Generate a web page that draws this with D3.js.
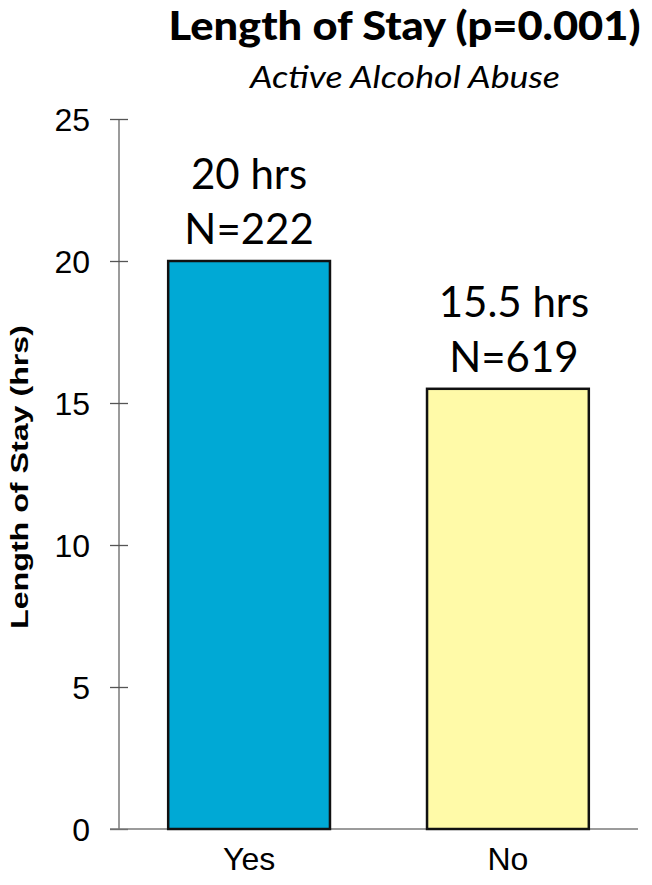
<!DOCTYPE html>
<html>
<head>
<meta charset="utf-8">
<script src="https://cdn.jsdelivr.net/npm/d3@7"></script>
<style>
  html, body { margin: 0; padding: 0; background: #ffffff; }
  svg { display: block; }
</style>
</head>
<body>
<script>
// ---- data ----
const categories = ["Yes", "No"];
const values = [20, 15.5];
const hoursLabels = ["20 hrs", "15.5 hrs"];
const nLabels = ["N=222", "N=619"];
const barColors = ["#00A9D5", "#FFFAA8"];
const yTicks = [0, 5, 10, 15, 20, 25];
const titleText = "Length of Stay (p=0.001)";
const subtitleText = "Active Alcohol Abuse";
const yAxisTitle = "Length of Stay (hrs)";

const W = 652, H = 885;
const svg = d3.select("body").append("svg").attr("width", W).attr("height", H);

const y = d3.scaleLinear().domain([0, 25]).range([829, 119]);
const x = d3.scaleBand().domain(categories).range([119, 638])
  .paddingInner(0.375).paddingOuter(0.19);

// title
svg.append("text")
  .attr("x", 404.5).attr("y", 40)
  .attr("text-anchor", "middle")
  .attr("font-family", "Lato, 'Open Sans', sans-serif")
  .attr("font-weight", "900")
  .attr("font-size", 39)
  .attr("textLength", 472).attr("lengthAdjust", "spacingAndGlyphs")
  .attr("fill", "#000")
  .text(titleText);

svg.append("text")
  .attr("x", 405).attr("y", 88)
  .attr("text-anchor", "middle")
  .attr("font-family", "Lato, 'Open Sans', sans-serif")
  .attr("font-style", "italic")
  .attr("font-size", 31)
  .attr("textLength", 310).attr("lengthAdjust", "spacingAndGlyphs")
  .attr("fill", "#000")
  .text(subtitleText);

// y axis
const yAxis = d3.axisLeft(y).tickValues(yTicks).tickSize(0).tickPadding(29).tickFormat(d3.format("d"));
const gy = svg.append("g").attr("transform", "translate(119,0)").call(yAxis);
gy.select(".domain").attr("stroke", "#7a7a7a").attr("stroke-width", 1.5)
  .attr("d", `M0,${y(25)}V${y(0)}`);
gy.selectAll(".tick line").remove();
gy.selectAll(".tick").append("line")
  .attr("x1", -9).attr("x2", 9)
  .attr("stroke", "#555").attr("stroke-width", 1.3);
gy.selectAll(".tick text")
  .attr("font-family", "'Liberation Sans', Arial, sans-serif")
  .attr("font-size", 32).attr("fill", "#000")
  .attr("dy", "0.36em");

// x axis
const xAxis = d3.axisBottom(x).tickSize(0).tickPadding(18);
const gx = svg.append("g").attr("transform", `translate(0,${y(0)})`).call(xAxis);
gx.select(".domain").attr("stroke", "#7a7a7a").attr("stroke-width", 1.5)
  .attr("d", "M110,0H638");
gx.selectAll(".tick text")
  .attr("font-family", "'Liberation Sans', Arial, sans-serif")
  .attr("font-size", 32).attr("fill", "#000")
  .attr("dy", "0.71em");

// bars
svg.append("g").selectAll("rect")
  .data(categories)
  .join("rect")
  .attr("x", d => x(d))
  .attr("y", (d, i) => y(values[i]))
  .attr("width", x.bandwidth())
  .attr("height", (d, i) => y(0) - y(values[i]))
  .attr("fill", (d, i) => barColors[i])
  .attr("stroke", "#111")
  .attr("stroke-width", 2.5);

// value labels
const lab = svg.append("g")
  .attr("font-family", "Lato, 'Open Sans', sans-serif")
  .attr("font-size", 42).attr("fill", "#000")
  .attr("text-anchor", "middle");
lab.selectAll("text.hrs")
  .data(categories).join("text").attr("class", "hrs")
  .attr("x", d => x(d) + x.bandwidth() / 2 + (d === "No" ? 6 : 0))
  .attr("y", (d, i) => y(values[i]) - 72)
  .text((d, i) => hoursLabels[i]);
lab.selectAll("text.n")
  .data(categories).join("text").attr("class", "n")
  .attr("x", d => x(d) + x.bandwidth() / 2 + (d === "No" ? 6 : 0))
  .attr("y", (d, i) => y(values[i]) - 17)
  .text((d, i) => nLabels[i]);

// y axis title
svg.append("text")
  .attr("transform", `translate(28,${(y(0) + y(25)) / 2 + 3}) rotate(-90)`)
  .attr("text-anchor", "middle")
  .attr("font-family", "'Liberation Sans', Arial, sans-serif")
  .attr("font-weight", "bold")
  .attr("font-size", 24)
  .attr("textLength", 304).attr("lengthAdjust", "spacingAndGlyphs")
  .attr("fill", "#000")
  .text(yAxisTitle);
</script>
</body>
</html>
